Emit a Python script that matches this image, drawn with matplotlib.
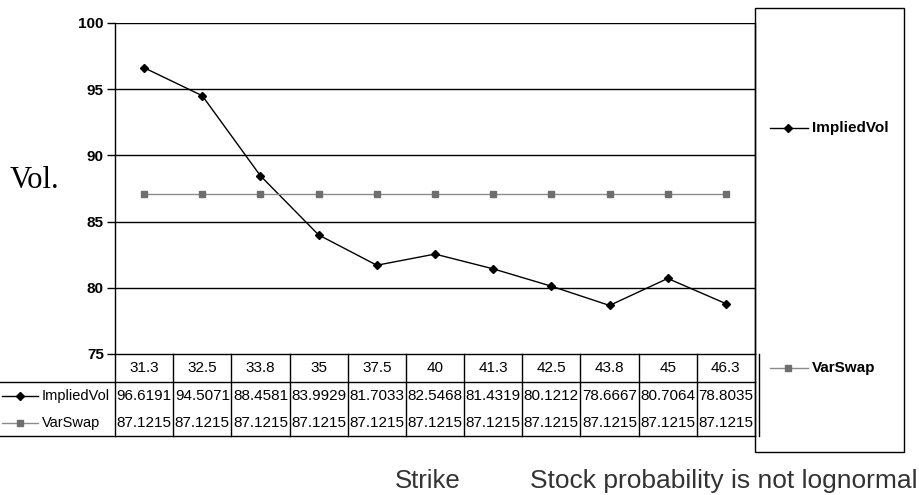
import matplotlib
matplotlib.use("Agg")
from matplotlib import pyplot as plt
from matplotlib import transforms
from matplotlib.lines import Line2D
from matplotlib.patches import Rectangle

strikes = ['31.3', '32.5', '33.8', '35', '37.5', '40', '41.3', '42.5', '43.8', '45', '46.3']
implied_vol = [96.6191, 94.5071, 88.4581, 83.9929, 81.7033, 82.5468, 81.4319, 80.1212, 78.6667, 80.7064, 78.8035]
var_swap = [87.1215] * 11
series_names = ['ImpliedVol', 'VarSwap']

W, H = 920, 495
plt.rcParams['font.family'] = ['Liberation Sans', 'DejaVu Sans']
fig = plt.figure(figsize=(W / 100, H / 100), dpi=100)

# plot area in pixels: left 115, right 755, top 23, bottom 354
ax = fig.add_axes([115 / W, (H - 354) / H, 640 / W, 331 / H])
x = list(range(len(strikes)))

ax.plot(x, implied_vol, color='black', lw=1, marker='D', ms=4.5, mfc='black', mec='black', zorder=3)
ax.plot(x, var_swap, color='#8c8c8c', lw=1, marker='s', ms=4.5, mfc='#6e6e6e', mec='#6e6e6e', zorder=3)

ax.set_xlim(-0.5, len(strikes) - 0.5)
ax.set_ylim(75, 100)
ax.set_yticks([75, 80, 85, 90, 95, 100])
ax.set_yticklabels(['75', '80', '85', '90', '95', '100'], fontweight='bold', fontsize=11)
ax.set_xticks([])
ax.tick_params(axis='y', length=6, width=1, direction='out', pad=2)
for y in [80, 85, 90, 95, 100]:
    ax.axhline(y, color='black', lw=1, zorder=1)
for s in ax.spines.values():
    s.set_linewidth(1)
ax.spines['top'].set_visible(False)

# data table under the plot
tr = transforms.blended_transform_factory(ax.transData, ax.transAxes)
row_h = 28 / 331
rows_bottom = [0, -row_h, -2 * row_h, -3 * row_h + 0.006]
left = -115 / 640

def hline(y, x0, x1):
    ax.add_line(Line2D([x0, x1], [y, y], transform=ax.transAxes, color='black', lw=1, clip_on=False))

hline(rows_bottom[1], left, 1.0)
hline(rows_bottom[3], left, 1.0)
for i in range(len(strikes) + 1):
    ax.add_line(Line2D([i - 0.5, i - 0.5], [0, rows_bottom[3]], transform=tr, color='black', lw=1, clip_on=False))
ax.add_line(Line2D([1.006, 1.006], [0, rows_bottom[3]], transform=ax.transAxes, color='black', lw=1, clip_on=False))

for i, s in enumerate(strikes):
    ax.text(i, (rows_bottom[0] + rows_bottom[1]) / 2, s, transform=tr, ha='center', va='center', fontsize=11)
    ax.text(i, (rows_bottom[1] + rows_bottom[2]) / 2, '%.4f' % implied_vol[i], transform=tr, ha='center', va='center', fontsize=11)
    ax.text(i, (rows_bottom[2] + rows_bottom[3]) / 2, '%.4f' % var_swap[i], transform=tr, ha='center', va='center', fontsize=11)

# row labels with legend keys
keys = [dict(color='black', marker='D', mfc='black', mec='black'),
        dict(color='#8c8c8c', marker='s', mfc='#6e6e6e', mec='#6e6e6e')]
for r, (name, k) in enumerate(zip(series_names, keys)):
    yc = (rows_bottom[r + 1] + rows_bottom[r + 2]) / 2
    ax.add_line(Line2D([left + 2 / 640, left + 38 / 640], [yc, yc], transform=ax.transAxes, color=k['color'], lw=1, clip_on=False))
    ax.add_line(Line2D([left + 20 / 640], [yc], transform=ax.transAxes, marker=k['marker'], ms=4.5,
                       mfc=k['mfc'], mec=k['mec'], lw=0, clip_on=False))
    ax.text(left + 42 / 640, yc, name, transform=ax.transAxes, ha='left', va='center', fontsize=10.5)

# legend box on the right
fig.patches.append(Rectangle((755 / W, (H - 452) / H), 149 / W, 444 / H, transform=fig.transFigure,
                             fill=False, edgecolor='black', lw=1))
for name, k, ypx in zip(series_names, keys, [128, 368]):
    yf = (H - ypx) / H
    fig.add_artist(Line2D([770 / W, 808 / W], [yf, yf], transform=fig.transFigure, color=k['color'], lw=1))
    fig.add_artist(Line2D([788 / W], [yf], transform=fig.transFigure, marker=k['marker'], ms=4.5,
                          mfc=k['mfc'], mec=k['mec'], lw=0))
    fig.text(812 / W, yf, name, ha='left', va='center', fontsize=11, fontweight='bold')

fig.text(10 / W, (H - 180) / H, 'Vol.', family='Liberation Serif', fontsize=22, ha='left', va='center')
fig.text(395 / W, (H - 481) / H, 'Strike', fontsize=18.5, color='#333333', ha='left', va='center')
fig.text(530 / W, (H - 481) / H, 'Stock probability is not lognormal', fontsize=19, color='#333333', ha='left', va='center')

fig.savefig('out.png', dpi=100)
